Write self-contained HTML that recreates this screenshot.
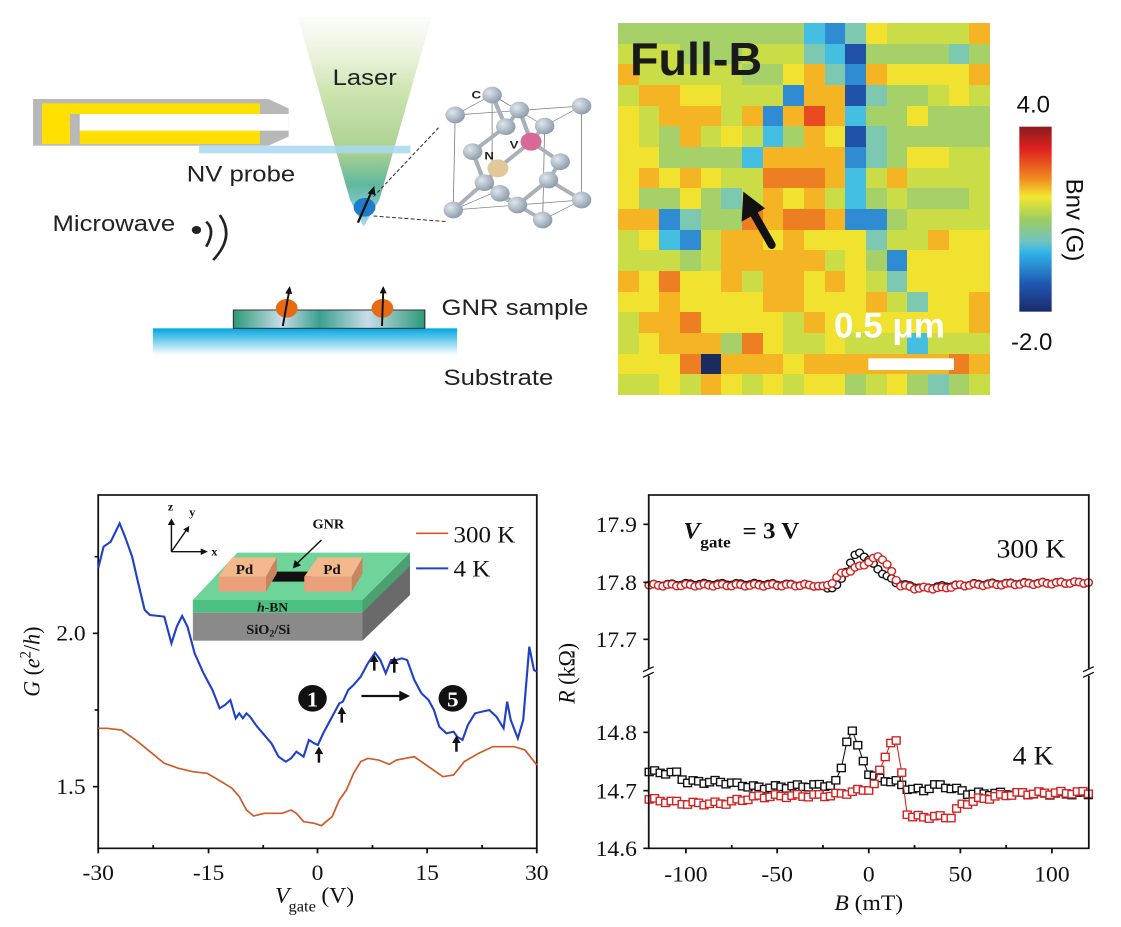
<!DOCTYPE html>
<html><head><meta charset="utf-8"><style>
html,body{margin:0;padding:0;background:#fff;width:1121px;height:927px;overflow:hidden;position:relative}
svg{position:absolute;overflow:visible}
#hm{position:absolute;left:618px;top:23px;width:372px;height:372px;display:grid;grid-template-columns:repeat(18,1fr);grid-template-rows:repeat(18,1fr)}
#hm i{display:block}
.t{font-family:"Liberation Sans",sans-serif}
.s{font-family:"Liberation Serif",serif}
</style></head><body>

<!-- top-left schematic (zoom coords 1568x1200) -->
<svg style="left:0;top:0" width="610" height="400" viewBox="0 0 1568 1200" preserveAspectRatio="none">
<defs>
<linearGradient id="cone" x1="0" y1="0" x2="0" y2="1">
<stop offset="0" stop-color="#f4f8ee" stop-opacity="0.4"/><stop offset="0.35" stop-color="#cfe4b0"/><stop offset="0.65" stop-color="#a8d090"/><stop offset="0.8" stop-color="#60b8a0"/><stop offset="1" stop-color="#a0d8f0"/></linearGradient>
<linearGradient id="sub" x1="0" y1="0" x2="0" y2="1"><stop offset="0" stop-color="#00a6e0"/><stop offset="1" stop-color="#ffffff"/></linearGradient>
<linearGradient id="gnr" x1="0" y1="0" x2="1" y2="0"><stop offset="0" stop-color="#2a9a78"/><stop offset="0.25" stop-color="#c8dde8"/><stop offset="0.45" stop-color="#3aa090"/><stop offset="0.7" stop-color="#c8dde8"/><stop offset="1" stop-color="#2a9a78"/></linearGradient>
<radialGradient id="sph" cx="0.35" cy="0.35" r="0.7"><stop offset="0" stop-color="#dfe6ec"/><stop offset="1" stop-color="#8a9aaa"/></radialGradient>
</defs>
<polygon points="765,50 1110,50 975,600 935,680 900,600" fill="url(#cone)"/>
<polygon points="85,297 690,297 742,325 742,410 690,437 85,437" fill="#b8b8b8"/>
<rect x="108" y="310" width="560" height="122" fill="#ffe000"/>
<rect x="180" y="342" width="562" height="50" fill="#fff"/>
<rect x="180" y="342" width="25" height="90" fill="#b8b8b8"/>
<rect x="512" y="437" width="543" height="23" fill="#a8d8f0" opacity="0.85"/>
<text x="855" y="255" class="t" font-size="66" fill="#222">Laser</text>
<text x="480" y="545" class="t" font-size="66" fill="#222">NV probe</text>
<text x="135" y="693" class="t" font-size="66" fill="#222">Microwave</text>
<circle cx="505" cy="690" r="12" fill="#222"/>
<path d="M530,665 Q555,690 530,740" stroke="#222" stroke-width="7" fill="none"/>
<path d="M565,645 Q605,710 548,780" stroke="#222" stroke-width="7" fill="none"/>
<line x1="960" y1="590" x2="1130" y2="380" stroke="#333" stroke-width="3" stroke-dasharray="10,6"/>
<line x1="960" y1="648" x2="1150" y2="665" stroke="#333" stroke-width="3" stroke-dasharray="10,6"/>
<circle cx="937" cy="622" r="28" fill="#1e7cc8"/>
<line x1="920" y1="668" x2="955" y2="575" stroke="#111" stroke-width="6"/>
<polygon points="962,558 945,580 965,585" fill="#111"/>
<!-- crystal -->
<g stroke="#777" stroke-width="2" fill="none">
<polygon points="1170,345 1495,318 1495,600 1165,630"/>
<polygon points="1265,285 1400,378 1395,660 1265,580"/>
<line x1="1170" y1="345" x2="1265" y2="285"/><line x1="1495" y1="318" x2="1400" y2="378"/><line x1="1165" y1="630" x2="1265" y2="580"/><line x1="1495" y1="600" x2="1395" y2="660"/>
</g>
<g stroke="#a8b0b8" stroke-width="11">
<line x1="1265" y1="285" x2="1300" y2="380"/><line x1="1335" y1="330" x2="1300" y2="380"/><line x1="1300" y1="380" x2="1215" y2="455"/><line x1="1335" y1="330" x2="1365" y2="425"/><line x1="1365" y1="425" x2="1400" y2="378"/><line x1="1365" y1="425" x2="1440" y2="485"/><line x1="1215" y1="455" x2="1245" y2="548"/><line x1="1245" y1="548" x2="1165" y2="630"/><line x1="1245" y1="548" x2="1330" y2="615"/><line x1="1330" y1="615" x2="1410" y2="540"/><line x1="1410" y1="540" x2="1440" y2="485"/><line x1="1410" y1="540" x2="1495" y2="600"/><line x1="1330" y1="615" x2="1395" y2="660"/><line x1="1280" y1="505" x2="1365" y2="425"/><line x1="1280" y1="505" x2="1245" y2="548"/></g>
<g fill="url(#sph)">
<circle cx="1265" cy="285" r="25"/><circle cx="1170" cy="345" r="25"/><circle cx="1335" cy="330" r="25"/><circle cx="1495" cy="318" r="25"/><circle cx="1300" cy="380" r="25"/><circle cx="1400" cy="378" r="25"/><circle cx="1215" cy="455" r="25"/><circle cx="1440" cy="485" r="25"/><circle cx="1245" cy="548" r="25"/><circle cx="1410" cy="540" r="25"/><circle cx="1285" cy="580" r="25"/><circle cx="1330" cy="615" r="25"/><circle cx="1165" cy="630" r="25"/><circle cx="1495" cy="600" r="25"/><circle cx="1395" cy="660" r="25"/></g>
<circle cx="1365" cy="425" r="27" fill="#d86898"/>
<circle cx="1280" cy="505" r="27" fill="#e2c898"/>
<text x="1212" y="295" class="t" font-size="34" font-weight="bold" fill="#222">C</text>
<text x="1310" y="445" class="t" font-size="34" font-weight="bold" fill="#222">V</text>
<text x="1245" y="478" class="t" font-size="34" font-weight="bold" fill="#222">N</text>
<!-- sample -->
<rect x="393" y="985" width="782" height="80" fill="url(#sub)"/>
<rect x="600" y="930" width="492" height="55" fill="url(#gnr)" stroke="#333" stroke-width="3"/>
<circle cx="737" cy="925" r="28" fill="#e86a14"/><circle cx="983" cy="925" r="28" fill="#e86a14"/>
<line x1="727" y1="978" x2="743" y2="875" stroke="#111" stroke-width="5"/><polygon points="745,858 733,880 751,882" fill="#111"/>
<line x1="982" y1="978" x2="985" y2="875" stroke="#111" stroke-width="5"/><polygon points="985,858 976,880 994,880" fill="#111"/>
<text x="1135" y="945" class="t" font-size="66" fill="#222">GNR sample</text>
<text x="1140" y="1155" class="t" font-size="66" fill="#222">Substrate</text>
</svg>

<!-- heatmap -->
<div id="hm"></div>
<svg style="left:610px;top:0" width="400" height="400" viewBox="0 0 1200 1200">
<text x="60" y="225" class="t" font-size="140" font-weight="bold" fill="#1a1a1a">Full-B</text>
<line x1="485" y1="735" x2="425" y2="630" stroke="#111" stroke-width="24" stroke-linecap="round"/>
<polygon points="400,575 395,665 465,625" fill="#111"/>
<text x="672" y="1012" class="t" font-size="105" font-weight="bold" fill="#fff">0.5 μm</text>
<rect x="775" y="1075" width="257" height="35" fill="#fff"/>
</svg>

<!-- colorbar -->
<svg style="left:990px;top:70px" width="131" height="300" viewBox="0 0 393 900">
<defs><linearGradient id="cb" x1="0" y1="0" x2="0" y2="1">
<stop offset="0" stop-color="#8a1c1c"/><stop offset="0.12" stop-color="#e02020"/><stop offset="0.28" stop-color="#f08a20"/><stop offset="0.38" stop-color="#f2e830"/><stop offset="0.5" stop-color="#9ccc60"/><stop offset="0.62" stop-color="#70c4c0"/><stop offset="0.68" stop-color="#30b4ea"/><stop offset="0.85" stop-color="#2058b0"/><stop offset="1" stop-color="#1a2a6c"/></linearGradient></defs>
<rect x="88" y="170" width="97" height="555" fill="url(#cb)"/>
<text x="130" y="128" class="t" font-size="72" text-anchor="middle" fill="#111">4.0</text>
<text x="125" y="840" class="t" font-size="72" text-anchor="middle" fill="#111">-2.0</text>
<text transform="translate(230,450) rotate(90)" class="t" font-size="72" text-anchor="middle" fill="#111">Bnv (G)</text>
</svg>

<!-- bottom-left chart -->
<svg style="left:0;top:480px" width="560" height="447" viewBox="0 0 1568 1341" preserveAspectRatio="none">
<rect x="275" y="45" width="1228" height="1060" fill="none" stroke="#111" stroke-width="5"/>
<g stroke="#111" stroke-width="5">
<line x1="275" y1="1105" x2="275" y2="1120"/><line x1="584" y1="1105" x2="584" y2="1120"/><line x1="889" y1="1105" x2="889" y2="1120"/><line x1="1196" y1="1105" x2="1196" y2="1120"/><line x1="1503" y1="1105" x2="1503" y2="1120"/>
<line x1="429" y1="1105" x2="429" y2="1095"/><line x1="737" y1="1105" x2="737" y2="1095"/><line x1="1043" y1="1105" x2="1043" y2="1095"/><line x1="1350" y1="1105" x2="1350" y2="1095"/>
<line x1="260" y1="460" x2="275" y2="460"/><line x1="260" y1="920" x2="275" y2="920"/><line x1="265" y1="230" x2="275" y2="230"/><line x1="265" y1="690" x2="275" y2="690"/>
</g>
<g class="s" font-size="66" fill="#111">
<text x="240" y="482" text-anchor="end">2.0</text><text x="240" y="942" text-anchor="end">1.5</text>
<text x="275" y="1200" text-anchor="middle">-30</text><text x="584" y="1200" text-anchor="middle">-15</text><text x="889" y="1200" text-anchor="middle">0</text><text x="1196" y="1200" text-anchor="middle">15</text><text x="1503" y="1200" text-anchor="middle">30</text>
<text x="770" y="1268" font-style="italic">V</text><text x="808" y="1295" font-size="46">gate</text><text x="900" y="1268">(V)</text>
<text transform="translate(110,545) rotate(-90)" text-anchor="middle"><tspan font-style="italic">G</tspan> (<tspan font-style="italic">e</tspan><tspan font-size="44" dy="-25">2</tspan><tspan dy="25">/</tspan><tspan font-style="italic">h</tspan>)</text>
</g>
<polyline fill="none" stroke="#d05a28" stroke-width="5" points="275,745 300,745 340,750 380,780 420,815 460,850 500,865 540,875 580,880 620,905 650,925 670,950 690,990 710,1008 740,1000 790,1000 815,990 830,1000 850,1025 880,1030 900,1037 930,1010 950,960 970,930 990,880 1010,845 1030,835 1060,840 1090,853 1110,840 1160,830 1200,860 1240,890 1270,885 1300,845 1340,820 1380,800 1440,800 1470,810 1503,855"/>
<polyline fill="none" stroke="#1f40c8" stroke-width="6" points="275,265 290,200 310,185 335,130 350,170 370,230 385,300 405,390 420,405 445,408 460,410 480,490 495,440 510,408 525,440 545,520 570,580 595,630 615,685 630,675 645,660 660,715 670,700 680,715 690,700 700,710 720,740 740,765 760,790 780,830 800,845 815,835 830,815 850,830 865,780 880,790 890,795 905,760 925,720 950,670 960,665 975,630 990,615 1010,590 1030,550 1050,518 1065,540 1080,580 1095,540 1110,540 1125,535 1140,540 1160,600 1180,640 1200,660 1215,690 1230,740 1250,760 1270,755 1280,770 1295,780 1310,735 1330,700 1370,690 1390,710 1410,745 1420,665 1430,720 1450,775 1465,720 1482,500 1495,570 1503,575"/>
<!-- inset device -->
<polygon points="1015,360 1148,218 1148,345 1015,482" fill="#6a6a6a"/>
<polygon points="1015,360 1148,218 1148,258 1015,398" fill="#4aa070"/>
<polygon points="540,360 665,218 1148,218 1015,360" fill="#6ed49a"/>
<rect x="540" y="360" width="475" height="38" fill="#4cc080"/>
<rect x="540" y="398" width="475" height="84" fill="#8a8a8a"/>
<polygon points="745,305 775,275 885,275 860,305" fill="#111"/>
<polygon points="612,290 650,232 775,232 745,290" fill="#f4b88c"/><polygon points="612,290 745,290 745,335 612,335" fill="#eaa07a"/><polygon points="745,290 775,232 775,280 745,335" fill="#c8845e"/>
<polygon points="852,290 890,232 1015,232 985,290" fill="#f4b88c"/><polygon points="852,290 985,290 985,335 852,335" fill="#eaa07a"/><polygon points="985,290 1015,232 1015,280 985,335" fill="#c8845e"/>
<g class="s" font-weight="bold" fill="#111">
<text x="660" y="282" font-size="42">Pd</text><text x="905" y="282" font-size="42">Pd</text>
<text x="720" y="395" font-size="38"><tspan font-style="italic">h</tspan>-BN</text>
<text x="690" y="462" font-size="40">SiO<tspan font-size="28" dy="8">2</tspan><tspan dy="-8">/Si</tspan></text>
<text x="875" y="145" font-size="40">GNR</text>
<text x="470" y="92" font-size="34">z</text><text x="530" y="108" font-size="34">y</text><text x="592" y="226" font-size="34">x</text>
</g>
<g stroke="#111" stroke-width="4"><line x1="900" y1="180" x2="830" y2="252"/><line x1="480" y1="215" x2="480" y2="130"/><line x1="480" y1="215" x2="565" y2="215"/><line x1="480" y1="215" x2="522" y2="150"/></g>
<g fill="#111"><polygon points="820,265 825,240 843,256"/><polygon points="480,115 470,135 490,135"/><polygon points="582,215 562,205 562,225"/><polygon points="530,138 513,148 528,158"/></g>
<!-- legend -->
<line x1="1165" y1="160" x2="1255" y2="160" stroke="#d05a28" stroke-width="5"/>
<line x1="1165" y1="265" x2="1255" y2="265" stroke="#1f40c8" stroke-width="6"/>
<text x="1270" y="188" class="s" font-size="70" fill="#111">300 K</text>
<text x="1270" y="290" class="s" font-size="70" fill="#111">4 K</text>
<!-- annotations -->
<circle cx="875" cy="655" r="40" fill="#111"/><text x="875" y="680" class="s" font-size="64" font-weight="bold" fill="#fff" text-anchor="middle">1</text>
<circle cx="1268" cy="655" r="40" fill="#111"/><text x="1268" y="680" class="s" font-size="64" font-weight="bold" fill="#fff" text-anchor="middle">5</text>
<line x1="1012" y1="648" x2="1125" y2="648" stroke="#111" stroke-width="7"/><polygon points="1148,648 1118,632 1118,664" fill="#111"/>
<g stroke="#111" stroke-width="7"><line x1="893" y1="848" x2="893" y2="818"/><line x1="957" y1="728" x2="957" y2="698"/><line x1="1048" y1="572" x2="1048" y2="542"/><line x1="1104" y1="578" x2="1104" y2="548"/><line x1="1278" y1="815" x2="1278" y2="785"/></g>
<g fill="#111"><polygon points="893,800 881,822 905,822"/><polygon points="957,680 945,702 969,702"/><polygon points="1048,524 1036,546 1060,546"/><polygon points="1104,530 1092,552 1116,552"/><polygon points="1278,767 1266,789 1290,789"/></g>
</svg>

<!-- bottom-right chart -->
<svg id="br" style="left:560px;top:480px" width="561" height="447" viewBox="0 0 1568 1341" preserveAspectRatio="none">
<defs>
<marker id="mcb" markerUnits="userSpaceOnUse" markerWidth="30" markerHeight="30" refX="15" refY="15"><circle cx="15" cy="15" r="11" fill="#fff" stroke="#111" stroke-width="4"/></marker>
<marker id="mcr" markerUnits="userSpaceOnUse" markerWidth="30" markerHeight="30" refX="15" refY="15"><circle cx="15" cy="15" r="11" fill="#fff" stroke="#d42020" stroke-width="4"/></marker>
<marker id="msb" markerUnits="userSpaceOnUse" markerWidth="30" markerHeight="30" refX="15" refY="15"><rect x="4" y="4" width="22" height="22" fill="#fff" stroke="#111" stroke-width="4"/></marker>
<marker id="msr" markerUnits="userSpaceOnUse" markerWidth="30" markerHeight="30" refX="15" refY="15"><rect x="4" y="4" width="22" height="22" fill="#fff" stroke="#d42020" stroke-width="4"/></marker>
</defs>
<g id="series"></g>
<rect x="248" y="45" width="1230" height="1060" fill="none" stroke="#111" stroke-width="5"/>
<rect x="235" y="565" width="30" height="22" fill="#fff"/><rect x="1465" y="565" width="30" height="22" fill="#fff"/>
<g stroke="#111" stroke-width="4"><line x1="232" y1="575" x2="262" y2="560"/><line x1="232" y1="592" x2="262" y2="577"/><line x1="1462" y1="575" x2="1492" y2="560"/><line x1="1462" y1="592" x2="1492" y2="577"/></g>
<g stroke="#111" stroke-width="5">
<line x1="233" y1="133" x2="248" y2="133"/><line x1="233" y1="307" x2="248" y2="307"/><line x1="233" y1="478" x2="248" y2="478"/><line x1="233" y1="757" x2="248" y2="757"/><line x1="233" y1="932" x2="248" y2="932"/><line x1="233" y1="1105" x2="248" y2="1105"/>
<line x1="352" y1="1105" x2="352" y2="1120"/><line x1="607" y1="1105" x2="607" y2="1120"/><line x1="863" y1="1105" x2="863" y2="1120"/><line x1="1119" y1="1105" x2="1119" y2="1120"/><line x1="1375" y1="1105" x2="1375" y2="1120"/>
<line x1="480" y1="1105" x2="480" y2="1095"/><line x1="735" y1="1105" x2="735" y2="1095"/><line x1="991" y1="1105" x2="991" y2="1095"/><line x1="1247" y1="1105" x2="1247" y2="1095"/>
</g>
<g class="s" font-size="66" fill="#111">
<text x="215" y="156" text-anchor="end">17.9</text><text x="215" y="330" text-anchor="end">17.8</text><text x="215" y="501" text-anchor="end">17.7</text>
<text x="215" y="780" text-anchor="end">14.8</text><text x="215" y="955" text-anchor="end">14.7</text><text x="215" y="1128" text-anchor="end">14.6</text>
<text x="352" y="1205" text-anchor="middle">-100</text><text x="607" y="1205" text-anchor="middle">-50</text><text x="863" y="1205" text-anchor="middle">0</text><text x="1119" y="1205" text-anchor="middle">50</text><text x="1375" y="1205" text-anchor="middle">100</text>
<text x="863" y="1290" text-anchor="middle"><tspan font-style="italic">B</tspan> (mT)</text>
<text transform="translate(40,580) rotate(-90)" text-anchor="middle"><tspan font-style="italic">R</tspan> (kΩ)</text>
<text x="1220" y="232" font-size="78">300 K</text><text x="1265" y="853" font-size="78">4 K</text>
<text x="345" y="175" font-size="70" font-weight="bold" font-style="italic">V</text><text x="392" y="202" font-size="48" font-weight="bold">gate</text><text x="510" y="175" font-size="70" font-weight="bold">= 3 V</text>
</g>
</svg>

<script>
(function(){
var rows=["gggggggggCBTYGGGGO","GGGgggGGGTCDggggTg","OGGGGGggYOTBOYYYYO","GOOYYGGGBOODTggGYG","YGOOOGOBOrOCggYggg","YGgOGYGCgOYDTggggg","YYggggCOOOOBTgYYGG","YOYOYGGRRROCGOGGGG","YggYgTGOYOGCgGgggG","OOBTggRORROBBgGGGG","GYCBGOOYOYYYTGGOYY","GGGgGOOOOOGYgBYYYY","OYRYYOGOOYOYGTYYYY","YYOYYYYOOYYYOGTYYO","GOORYYYYGOYYYYYYYO","GYOOOgRYGGYGGGCGGG","YYYRNOOOYOOOOOOORO","GGYGOYGYGYYgGYgTgG"];
var c={g:"#a6d068",G:"#cadc46",Y:"#f2e230",O:"#f5b424",R:"#ee7e22",r:"#e84a22",C:"#44bfe2",B:"#2f8cd2",D:"#1f52a8",N:"#1a2c5e",T:"#7cc8b0"};
var h="";rows.forEach(function(r){for(var i=0;i<18;i++)h+='<i style="background:'+c[r[i]]+'"></i>';});
document.getElementById("hm").innerHTML=h;
function interp(k,x){for(var i=0;i<k.length-1;i++){if(x>=k[i][0]&&x<=k[i+1][0]){var t=(x-k[i][0])/(k[i+1][0]-k[i][0]);return k[i][1]+t*(k[i+1][1]-k[i][1]);}}return k[k.length-1][1];}
function pts(k,y0,r0,s,step,jit){var p=[];var n=0;for(var b=-120;b<=120.01;b+=step){var r=interp(k,b)+jit*Math.sin(n*1.7)*0.5;n++;p.push((863+b*5.115).toFixed(1)+","+(y0-(r-r0)*s).toFixed(1));}return p.join(" ");}
var k3b=[[-120,17.795],[-100,17.797],[-60,17.797],[-30,17.795],[-22,17.79],[-17,17.795],[-14,17.81],[-10,17.835],[-6,17.852],[-2,17.845],[2,17.832],[6,17.82],[10,17.81],[15,17.8],[20,17.795],[30,17.79],[40,17.793],[60,17.797],[120,17.8]];
var k3r=[[-120,17.795],[-30,17.795],[-25,17.792],[-20,17.8],[-15,17.815],[-10,17.82],[-5,17.828],[0,17.835],[5,17.845],[8,17.84],[11,17.825],[14,17.81],[17,17.795],[25,17.79],[40,17.79],[50,17.795],[120,17.8]];
var k4b=[[-120,14.732],[-105,14.73],[-100,14.715],[-80,14.715],[-60,14.705],[-20,14.71],[-16,14.72],[-13,14.775],[-10,14.81],[-8,14.795],[-5,14.765],[-2,14.745],[0,14.73],[5,14.72],[15,14.715],[20,14.705],[30,14.7],[35,14.71],[45,14.705],[55,14.695],[120,14.695]];
var k4r=[[-120,14.685],[-100,14.678],[-80,14.678],[-60,14.69],[-20,14.692],[0,14.703],[3,14.71],[5,14.725],[8,14.75],[10,14.77],[13,14.79],[16,14.78],[18,14.73],[20,14.665],[23,14.655],[45,14.655],[50,14.675],[60,14.685],[80,14.695],[120,14.697]];
var g=document.getElementById("series");var ns="http://www.w3.org/2000/svg";
function add(p,col,m){var e=document.createElementNS(ns,"polyline");e.setAttribute("points",p);e.setAttribute("fill","none");e.setAttribute("stroke",col);e.setAttribute("stroke-width","3");["marker-start","marker-mid","marker-end"].forEach(function(a){e.setAttribute(a,"url(#"+m+")");});g.appendChild(e);}
add(pts(k3b,307,17.8,1740,2.5,0.004),"#111","mcb");
add(pts(k3r,307,17.8,1740,2.5,0.004),"#d42020","mcr");
add(pts(k4b,932,14.7,1750,3,0.006),"#111","msb");
add(pts(k4r,932,14.7,1750,3,0.006),"#d42020","msr");
})();
</script>
</body></html>
